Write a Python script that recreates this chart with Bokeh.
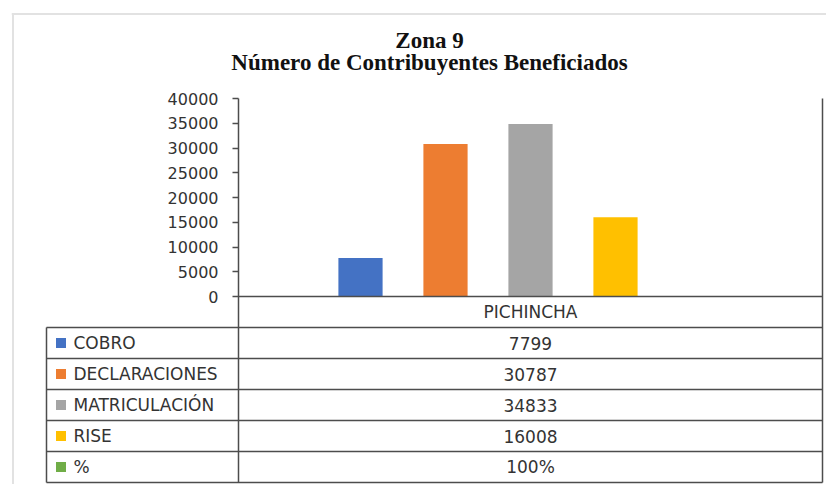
from bokeh.plotting import figure
from bokeh.models import Range1d, FixedTicker, ColumnDataSource
from bokeh.core.properties import value
from bokeh.embed import file_html
from bokeh.resources import INLINE

# ---------------- data ----------------
title_line1 = "Zona 9"
title_line2 = "Número de Contribuyentes Beneficiados"
region = "PICHINCHA"
series = ["COBRO", "DECLARACIONES", "MATRICULACIÓN", "RISE", "%"]
values = [7799, 30787, 34833, 16008, 100]
table_values = ["7799", "30787", "34833", "16008", "100%"]
colors = ["#4472C4", "#ED7D31", "#A5A5A5", "#FFC000", "#70AD47"]
y_ticks = [0, 5000, 10000, 15000, 20000, 25000, 30000, 35000, 40000]

# ---------------- geometry (page pixels) ----------------
PAGE = 0
W, H = 826, 484
FX0, FX1 = 11, 826          # frame left/right (page px)
FY0, FY1 = 12, 484          # frame top/bottom (page px)
PY_TOP, PY_ZERO = 98, 296   # y of max tick and of zero
ROW_PX = 31
PX_DIV, PX_RIGHT, PX_TLEFT = 238, 822, 46
BAR_STEP = 85
PX_CENTER = (PX_DIV + PX_RIGHT) / 2.0

Y_MAX = y_ticks[-1]
ppu_y = (PY_ZERO - PY_TOP) / Y_MAX
n = len(series)
mid = (n - 1) / 2.0


def dx(px):
    return mid + (px - PX_CENTER) / BAR_STEP


def dy(py):
    return (PY_ZERO - py) / ppu_y


row_units = ROW_PX / ppu_y
nrows = n + 1
y_table_bottom = -nrows * row_units

LINE = "#4d4d4d"
TXT = "#333333"
FONT = value("DejaVu Sans")

p = figure(width=W, height=H, output_backend="svg", toolbar_location=None,
           x_range=Range1d(dx(FX0), dx(FX1)), y_range=Range1d(dy(FY1), dy(FY0)),
           x_axis_location=None,
           min_border_left=FX0 - PAGE, min_border_right=PAGE + W - FX1,
           min_border_top=FY0 - PAGE, min_border_bottom=PAGE + H - FY1)
p.outline_line_color = None
p.grid.visible = False
p.background_fill_color = "white"
p.border_fill_color = "white"

# y axis placed at the table divider
ax = p.yaxis[0]
ax.fixed_location = dx(PX_DIV)
ax.bounds = (y_table_bottom, Y_MAX)
ax.ticker = FixedTicker(ticks=y_ticks)
ax.major_tick_out = 6
ax.major_tick_in = 0
ax.minor_tick_line_color = None
ax.axis_line_color = LINE
ax.axis_line_width = 1.5
ax.major_tick_line_color = LINE
ax.major_tick_line_width = 1.5
ax.major_label_text_font = "DejaVu Sans"
ax.major_label_text_font_size = "16px"
ax.major_label_text_color = TXT
ax.major_label_standoff = 14

# outer light frame (top and left edges)
p.segment(x0=[dx(FX0), dx(FX0 + 1.5)], y0=[dy(FY0 + 1.5), dy(FY0 + 1.5)],
          x1=[dx(FX1 + 5), dx(FX0 + 1.5)], y1=[dy(FY0 + 1.5), dy(FY1 + 5)],
          line_color="#e2e2e2", line_width=2)

# bars
xs = list(range(n))
src = ColumnDataSource(dict(x=xs, top=values, color=colors))
p.vbar(x="x", top="top", bottom=0, width=0.52, fill_color="color",
       line_color=None, source=src)

# table lines: zero line (header top), row separators, bottom
hy = [0.0] + [-(k + 1) * row_units for k in range(nrows)]
hx0 = [dx(PX_DIV)] + [dx(PX_TLEFT)] * nrows
hx1 = [dx(PX_RIGHT)] * (nrows + 1)
p.segment(x0=hx0, y0=hy, x1=hx1, y1=hy, line_color=LINE, line_width=1.5)
# right border and left border of the table
p.segment(x0=[dx(PX_RIGHT), dx(PX_TLEFT)], y0=[Y_MAX, -row_units],
          x1=[dx(PX_RIGHT), dx(PX_TLEFT)], y1=[y_table_bottom, y_table_bottom],
          line_color=LINE, line_width=1.5)

# table content
rows_y = [-(k + 1.5) * row_units for k in range(n)]
tsrc = ColumnDataSource(dict(
    name=series, val=table_values, color=colors, r=rows_y,
    sx=[dx(PX_TLEFT + 14.5)] * n,
    lx=[dx(PX_TLEFT + 27)] * n,
    cx=[mid] * n))
p.scatter(x="sx", y="r", marker="square", size=10, fill_color="color",
          line_color=None, source=tsrc)
p.text(x="lx", y="r", text="name", text_font=FONT, text_font_size="17px",
       text_color=TXT, text_baseline="middle", text_align="left", source=tsrc)
p.text(x="cx", y="r", text="val", text_font=FONT, text_font_size="17px",
       text_color=TXT, text_baseline="middle", text_align="center", source=tsrc)
p.text(x=[mid], y=[-0.5 * row_units], text=[region], text_font=FONT,
       text_font_size="17px", text_color=TXT, text_baseline="middle",
       text_align="center")

# titles
p.text(x=[dx(429), dx(429)], y=[dy(40), dy(62)], text=[title_line1, title_line2],
       text_font=value("Liberation Serif"), text_font_style="bold",
       text_font_size="23px", text_color="#111111", text_align="center",
       text_baseline="middle")

open("out.html", "w").write(file_html(p, INLINE))
